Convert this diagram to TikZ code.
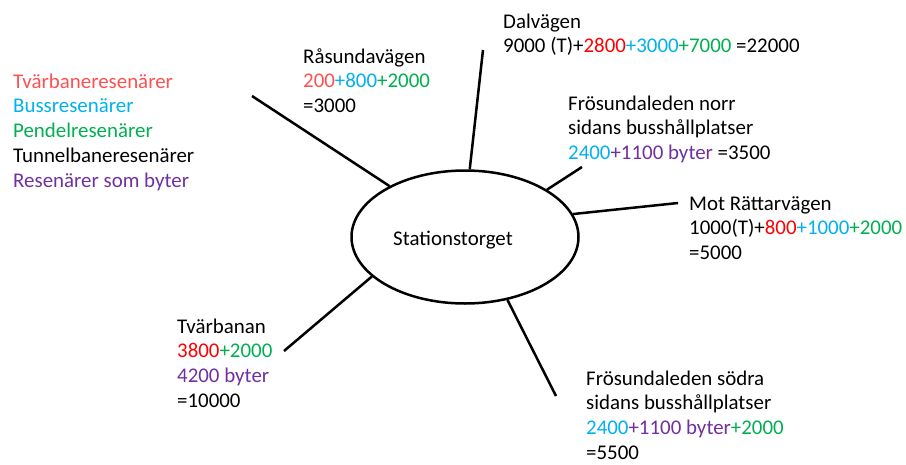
\documentclass[tikz,border=0pt]{standalone}
\usepackage{fontspec}
\setmainfont{Carlito}
\usetikzlibrary{shapes.geometric}
\definecolor{tred}{HTML}{FF0000}
\definecolor{tlred}{HTML}{FF5050}
\definecolor{tblue}{HTML}{00B0F0}
\definecolor{tgreen}{HTML}{00B050}
\definecolor{tpurple}{HTML}{7030A0}
\newcommand{\firstline}{\rule{0pt}{15pt}}
\tikzset{
	txt/.style={anchor=north west, align=left, inner sep=0pt, font=\fontsize{20.9}{24.7}\selectfont},
	hub/.style={draw, ellipse, line width=2.5pt, minimum width=227, minimum height=133, inner sep=0pt},
	spoke/.style={line width=2.5pt}
}
\begin{document}
\begin{tikzpicture}[x=1pt,y=-1pt]
	\useasboundingbox (0,0) rectangle (906,464);
	\node[hub] (torg) at (465,237){};
	\node[txt, anchor=center] (torglbl) at (453,240){Stationstorget};
	\node[txt] (legend) at (13,73){\firstline\textcolor{tlred}{Tvärbaneresenärer}\\
		\textcolor{tblue}{Bussresenärer}\\
		\textcolor{tgreen}{Pendelresenärer}\\
		Tunnelbaneresenärer\\
		\textcolor{tpurple}{Resenärer som byter}};
	\node[txt] (rasunda) at (303,48){\firstline Råsundavägen\\
		\textcolor{tlred}{200}\textcolor{tblue}{+800}\textcolor{tgreen}{+2000}\\
		=3000};
	\node[txt] (dal) at (503,13){\firstline Dalvägen\\
		9000 (T)+\textcolor{tred}{2800}\textcolor{tblue}{+3000}\textcolor{tgreen}{+7000} =22000};
	\node[txt] (fnorr) at (568,95){\firstline Frösundaleden norr\\
		sidans busshållplatser\\
		\textcolor{tblue}{2400}\textcolor{tpurple}{+1100 byter} =3500};
	\node[txt] (ratt) at (689,195){\firstline Mot Rättarvägen\\
		1000(T)+\textcolor{tred}{800}\textcolor{tblue}{+1000}\textcolor{tgreen}{+2000}\\
		=5000};
	\node[txt] (tvar) at (177,318){\firstline Tvärbanan\\
		\textcolor{tred}{3800}\textcolor{tgreen}{+2000}\\
		\textcolor{tpurple}{4200 byter}\\
		=10000};
	\node[txt] (fsodra) at (586,370){\firstline Frösundaleden södra\\
		sidans busshållplatser\\
		\textcolor{tblue}{2400}\textcolor{tpurple}{+1100 byter}\textcolor{tgreen}{+2000}\\
		=5500};
	% free ends of the spokes
	\coordinate (rasundaend) at (252,96);
	\coordinate (dalend) at (483,50);
	\coordinate (fnorrend) at (582,167);
	\coordinate (rattend) at (678,203);
	\coordinate (tvarend) at (284,351);
	\coordinate (fsodraend) at (556,396);
	\draw[spoke] (rasundaend) -- (torg.146);%Råsundavägen
	\draw[spoke] (dalend) -- (torg.86);%Dalvägen
	\draw[spoke] (fnorrend) -- (torg.30);%Frösundaleden norr
	\draw[spoke] (rattend) -- (torg.12);%Mot Rättarvägen
	\draw[spoke] (tvarend) -- (torg.203);%Tvärbanan
	\draw[spoke] (fsodraend) -- (torg.-56);%Frösundaleden södra
\end{tikzpicture}
\end{document}
